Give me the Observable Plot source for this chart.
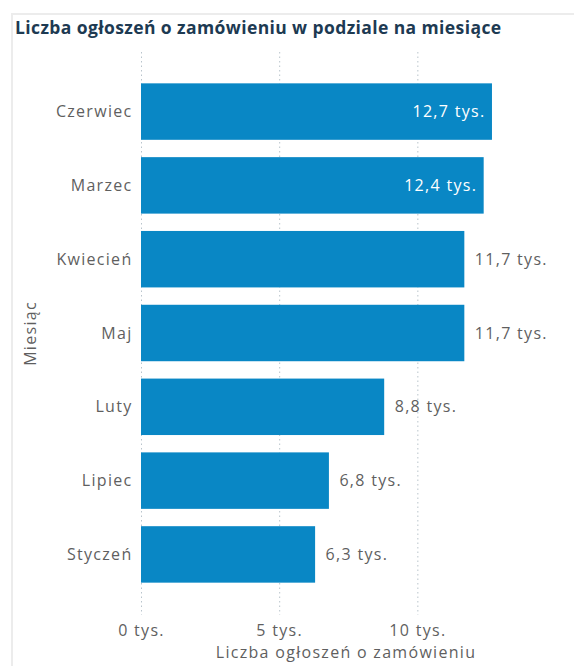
<!DOCTYPE html>
<html>
<head>
<meta charset="utf-8">
<script src="https://cdn.jsdelivr.net/npm/d3@7"></script>
<script src="https://cdn.jsdelivr.net/npm/@observablehq/plot@0.6"></script>
<style>
  html, body { margin: 0; padding: 0; background: #fff; }
  #wrap { position: relative; width: 574px; height: 666px; overflow: hidden; font-family: "Open Sans", "Noto Sans", sans-serif; }
  #frame { position: absolute; left: 11px; top: 13px; right: -10px; bottom: -10px; border-left: 2px solid #ececec; border-top: 2px solid #ececec; }
  #title { position: absolute; left: 15px; top: 18.5px; font-size: 17.5px; line-height: 1; font-weight: 700; color: #1d3a52; white-space: nowrap; letter-spacing: 0.4px; }
  #chart { position: absolute; left: 0; top: 44px; }
  #chart svg { overflow: visible; }
</style>
</head>
<body>
<div id="wrap">
  <div id="frame"></div>
  <div id="title">Liczba ogłoszeń o zamówieniu w podziale na miesiące</div>
  <div id="chart"></div>
</div>
<script>
const months = ["Czerwiec", "Marzec", "Kwiecień", "Maj", "Luty", "Lipiec", "Styczeń"];
const values = [12.7, 12.4, 11.7, 11.7, 8.8, 6.8, 6.3];
const xTicks = [0, 5, 10];
const xLabel = "Liczba ogłoszeń o zamówieniu";
const yLabel = "Miesiąc";

const data = months.map((m, i) => ({month: m, value: values[i]}));
const fmt = v => v.toFixed(1).replace(".", ",") + " tys.";
const barColor = "#0987c5";
const textColor = "#5f5f5f";
const inside = data.filter(d => d.value >= 12);
const outside = data.filter(d => d.value < 12);

const chart = Plot.plot({
  width: 574,
  height: 640,
  marginLeft: 141,
  marginRight: 24,
  marginTop: 22,
  marginBottom: 84,
  style: {fontFamily: "'Open Sans', 'Noto Sans', sans-serif", background: "transparent", letterSpacing: "1.3px", overflow: "visible"},
  x: {domain: [0, 14.8], axis: null},
  y: {domain: months, paddingInner: 0.235, paddingOuter: 0.235, round: false, axis: null},
  marks: [
    Plot.ruleX(xTicks, {stroke: "#b9c4cc", strokeDasharray: "1.5,3", strokeWidth: 1, insetTop: -14, insetBottom: -15}),
    Plot.barX(data, {x: "value", y: "month", fill: barColor}),
    Plot.axisY({tickSize: 0, tickPadding: 9, fontSize: 16, color: textColor, label: null}),
    Plot.axisX(xTicks, {tickSize: 0, tickPadding: 24, fontSize: 16, color: textColor, label: null, tickFormat: d => d + " tys."}),
    Plot.text(outside, {x: "value", y: "month", text: d => fmt(d.value), textAnchor: "start", dx: 10, fontSize: 16, fill: textColor}),
    Plot.text(inside, {x: "value", y: "month", text: d => fmt(d.value), textAnchor: "end", dx: -7, fontSize: 16, fill: "#fff"}),
    Plot.text([xLabel], {frameAnchor: "bottom", textAnchor: "middle", lineAnchor: "middle", dy: 52, fontSize: 16, fill: textColor}),
    Plot.text([yLabel], {frameAnchor: "left", textAnchor: "middle", lineAnchor: "middle", rotate: -90, dx: -111, fontSize: 16, fill: textColor})
  ]
});
document.getElementById("chart").appendChild(chart);
</script>
</body>
</html>
